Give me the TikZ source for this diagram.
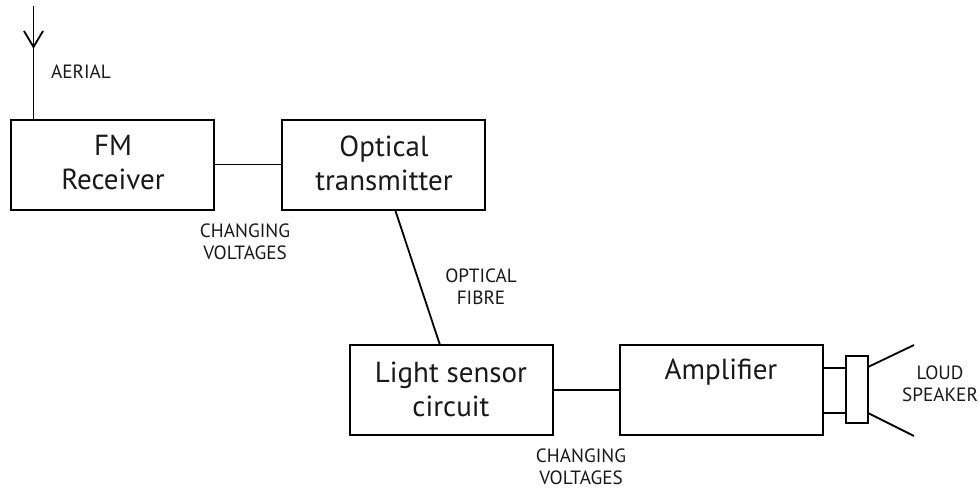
\documentclass[tikz,border=0pt]{standalone}
\usepackage{fontspec}
\setmainfont{PT Sans}
\begin{document}
\begin{tikzpicture}[x=1pt,y=-1pt,
  blk/.style={draw=black,line width=2pt,fill=white,minimum width=203pt,minimum height=90pt,inner sep=0pt,outer sep=0pt,anchor=north west},
  big/.style={font=\fontsize{29}{34}\selectfont,align=center,inner sep=0pt,anchor=center,text=black!90},
  small/.style={font=\fontsize{19.2}{22}\selectfont,align=center,inner sep=0pt,anchor=center,text=black!90},
  wire/.style={line width=1.8pt,draw=black}]
\useasboundingbox (0,0) rectangle (979,488);
\node[blk] (fm) at (11,119.5) {};
\node[blk] (opt) at (282,119.5) {};
\node[blk] (ls) at (349.5,345) {};
\node[blk] (amp) at (620,345) {};
\node[draw=black,line width=2pt,minimum width=22pt,minimum height=67pt,inner sep=0pt,outer sep=0pt,anchor=north west] (spk) at (846,355.5) {};
\node[big] (tfm) at (113,163) {FM\\Receiver};
\node[big] (topt) at (384,163) {Optical\\transmitter};
\node[big] (tls) at (451,389) {Light sensor\\circuit};
\node[big] (tamp) at (721,372) {Amplifier};
\node[small] (laer) at (81,72) {AERIAL};
\node[small] (lcv1) at (245,242) {CHANGING\\VOLTAGES};
\node[small] (lfib) at (481,287) {OPTICAL\\FIBRE};
\node[small] (lcv2) at (581,466.5) {CHANGING\\VOLTAGES};
\node[small] (lspk) at (940,384) {LOUD\\SPEAKER};
\coordinate (atop) at (33.5,6);
\coordinate (abot) at (33.5,119.5);
\coordinate (al) at (24,31);
\coordinate (ar) at (43,31);
\coordinate (atip) at (33.5,47);
\coordinate (fo) at (395,209.5);
\coordinate (fi) at (440,345);
\coordinate (s1) at (868,367);
\coordinate (s2) at (914,345);
\coordinate (s3) at (868,413);
\coordinate (s4) at (914,436);
\draw[wire] (atop) -- (abot);
\draw[wire] (al) -- (atip) -- (ar);
\draw[wire] (fm.east) -- (opt.west);
\draw[wire] (fo) -- (fi);
\draw[wire] (ls.east) -- (amp.west);
\draw[wire] (amp.east |- 0,368) -- (spk.west |- 0,368);
\draw[wire] (amp.east |- 0,413) -- (spk.west |- 0,413);
\draw[wire] (s1) -- (s2);
\draw[wire] (s3) -- (s4);
\end{tikzpicture}
\end{document}
